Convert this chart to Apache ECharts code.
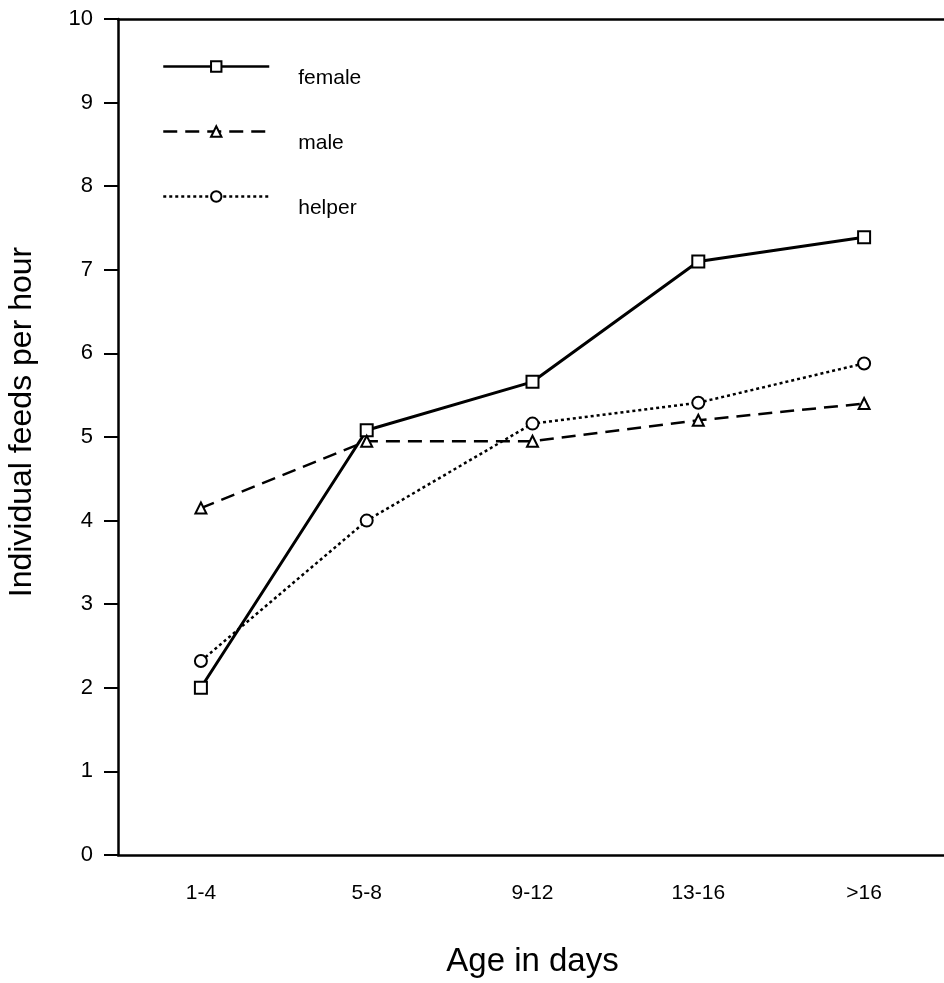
<!DOCTYPE html>
<html>
<head>
<meta charset="utf-8">
<script src="https://cdn.jsdelivr.net/npm/echarts@6/dist/echarts.min.js"></script>
<style>
  html, body { margin: 0; padding: 0; background: #fff; }
  #chart { width: 944px; height: 983px; }
</style>
</head>
<body>
<div id="chart"></div>
<script>
const ages = ["1-4", "5-8", "9-12", "13-16", ">16"];
const female = [2.0, 5.08, 5.66, 7.1, 7.39];
const male = [4.15, 4.95, 4.95, 5.2, 5.4];
const helper = [2.32, 4.0, 5.16, 5.41, 5.88];

const font = "Liberation Sans, Arial, sans-serif";

function lineSeries(name, data, symbol, size, type) {
  return {
    name: name,
    type: "line",
    data: data,
    symbol: symbol,
    symbolSize: size,
    showAllSymbol: true,
    itemStyle: { color: "#fff", borderColor: "#000", borderWidth: 2 },
    lineStyle: { color: "#000", width: type === "solid" ? 3 : 2.5, type: type },
    emphasis: { disabled: true },
    z: 3
  };
}

const chart = echarts.init(document.getElementById("chart"));
chart.setOption({
  animation: false,
  grid: { left: 118, top: 19, width: 829, height: 836, outerBoundsMode: "none", containLabel: false },
  legend: {
    left: 157, top: 39,
    orient: "vertical",
    itemWidth: 106, itemHeight: 13, itemGap: 20,
    data: ["female", "male", "helper"],
    lineStyle: { width: 2.5 },
    // empty first line pushes the name a little below the legend line
    formatter: function (name) { return "{gap| }\n{t|" + name + "}"; },
    textStyle: {
      fontFamily: font, fontSize: 21, color: "#000", padding: [0, 0, 0, 24],
      rich: {
        gap: { fontSize: 10, lineHeight: 24, height: 24 },
        t: { fontFamily: font, fontSize: 21, lineHeight: 21, color: "#000" }
      }
    },
    selectedMode: false
  },
  xAxis: [{
    type: "category",
    data: ages,
    boundaryGap: true,
    axisLine: { lineStyle: { color: "#000", width: 2.5 } },
    axisTick: { alignWithLabel: true, length: 12, lineStyle: { color: "#000", width: 2 } },
    axisLabel: { fontFamily: font, fontSize: 21, color: "#000", margin: 28 },
    name: "Age in days",
    nameLocation: "middle",
    nameGap: 90,
    nameTextStyle: { fontFamily: font, fontSize: 33, color: "#000" }
  }, {
    type: "category",
    data: ages,
    position: "top",
    axisLine: { lineStyle: { color: "#000", width: 2.5 } },
    axisTick: { show: false },
    axisLabel: { show: false }
  }],
  yAxis: {
    type: "value",
    min: 0, max: 10, interval: 1,
    splitLine: { show: false },
    axisLine: { show: true, lineStyle: { color: "#000", width: 2.5 } },
    axisTick: { show: true, length: 14, lineStyle: { color: "#000", width: 2 } },
    axisLabel: { fontFamily: font, fontSize: 22, color: "#000", margin: 25 },
    name: "Individual feeds per hour",
    nameLocation: "middle",
    nameGap: 80,
    nameTextStyle: { fontFamily: font, fontSize: 32, color: "#000", padding: [0, 0, 0, 30] }
  },
  series: [
    lineSeries("female", female, "rect", 12, "solid"),
    lineSeries("male", male, "triangle", 11, [14, 8]),
    lineSeries("helper", helper, "circle", 12, [3, 3])
  ]
});
</script>
</body>
</html>
